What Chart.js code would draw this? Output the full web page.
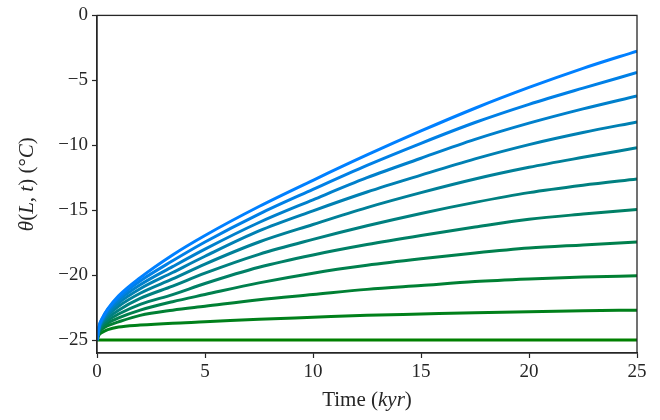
<!DOCTYPE html>
<html>
<head>
<meta charset="utf-8">
<script src="https://cdn.jsdelivr.net/npm/chart.js@4/dist/chart.umd.min.js"></script>
<style>
    html, body { margin: 0; padding: 0; background: #fff; }
    #wrap { width: 660px; height: 420px; }
</style>
</head>
<body>
<div id="wrap"><canvas id="chart"></canvas></div>
<script>
// ── Data ────────────────────────────────────────────────────
const TIMES = [0, 0.1, 0.25, 0.5, 1, 2, 3.5, 5, 7.5, 10, 12.5, 15, 17.5, 20, 22.5, 25];

const THETA_1  = [-25, -23.9,  -23.3,  -22.6,  -21.6,  -20.2,  -18.45, -16.95, -14.72, -12.7,  -10.75, -8.9,  -7.15, -5.55, -4.08, -2.75];
const THETA_2  = [-25, -23.95, -23.35, -22.65, -21.75, -20.45, -18.9,  -17.45, -15.3,  -13.4,  -11.55, -9.85, -8.25, -6.85, -5.6,  -4.4];
const THETA_3  = [-25, -24.0,  -23.45, -22.8,  -21.95, -20.75, -19.35, -18.0,  -15.95, -14.2,  -12.5,  -11.0, -9.55, -8.3,  -7.2,  -6.2];
const THETA_4  = [-25, -24.05, -23.5,  -22.95, -22.15, -21.05, -19.8,  -18.55, -16.6,  -15.05, -13.6,  -12.3, -11.05,-9.95, -9.02, -8.2];
const THETA_5  = [-25, -24.1,  -23.6,  -23.1,  -22.4,  -21.4,  -20.3,  -19.15, -17.45, -16.1,  -14.8,  -13.65,-12.6, -11.7, -10.93,-10.2];
const THETA_6  = [-25, -24.2,  -23.7,  -23.3,  -22.7,  -21.8,  -20.85, -19.85, -18.4,  -17.25, -16.2,  -15.25,-14.4, -13.65,-13.08,-12.6];
const THETA_7  = [-25, -24.25, -23.85, -23.5,  -23.0,  -22.25, -21.5,  -20.65, -19.4,  -18.45, -17.65, -16.95,-16.3, -15.7, -15.3, -14.95];
const THETA_8  = [-25, -24.35, -24.0,  -23.7,  -23.3,  -22.7,  -22.05, -21.5,  -20.6,  -19.85, -19.25, -18.75,-18.3, -17.92,-17.68,-17.45];
const THETA_9  = [-25, -24.45, -24.15, -23.9,  -23.6,  -23.1,  -22.7,  -22.4,  -21.9,  -21.5,  -21.1,  -20.8, -20.5, -20.3, -20.15,-20.05];
const THETA_10 = [-25, -24.6,  -24.4,  -24.2,  -24.0,  -23.85, -23.7,  -23.6,  -23.4,  -23.25, -23.1,  -23.0, -22.9, -22.82,-22.75,-22.7];
const THETA_11 = [-25, -25,    -25,    -25,    -25,    -25,    -25,    -25,    -25,    -25,    -25,    -25,   -25,   -25,   -25,   -25];

const SERIES = [THETA_1, THETA_2, THETA_3, THETA_4, THETA_5, THETA_6,
                THETA_7, THETA_8, THETA_9, THETA_10, THETA_11];

const COLORS = ['#0080ff', '#0080e6', '#0080cc', '#0080b3', '#008099', '#008080',
                '#008066', '#00804d', '#008033', '#00801a', '#008000'];

const X_TICKS = [0, 5, 10, 15, 20, 25];
const Y_TICKS = [0, -5, -10, -15, -20, -25];

// ── Style ───────────────────────────────────────────────────
const FONT = 'Liberation Serif';
const INK  = '#262626';

function drawRich(ctx, parts, cx, cy, angle, size) {
    ctx.save();
    ctx.translate(cx, cy);
    ctx.rotate(angle);
    ctx.fillStyle = INK;
    ctx.textBaseline = 'middle';
    ctx.textAlign = 'left';
    let w = 0;
    parts.forEach(p => {
        ctx.font = (p.it ? 'italic ' : '') + size + 'px "' + FONT + '"';
        w += ctx.measureText(p.t).width;
    });
    let x = -w / 2;
    parts.forEach(p => {
        ctx.font = (p.it ? 'italic ' : '') + size + 'px "' + FONT + '"';
        ctx.fillText(p.t, x, 0);
        x += ctx.measureText(p.t).width;
    });
    ctx.restore();
}

const framePlugin = {
    id: 'frame',
    afterDraw(chart) {
        const { ctx, chartArea: a } = chart;
        ctx.save();
        ctx.strokeStyle = INK;
        ctx.lineWidth = 1.3;
        ctx.strokeRect(a.left, a.top, a.right - a.left, a.bottom - a.top);
        ctx.restore();

        drawRich(ctx, [{ t: 'Time (' }, { t: 'kyr', it: 1 }, { t: ')' }],
            (a.left + a.right) / 2, 400, 0, 21);
        drawRich(ctx, [
            { t: 'θ', it: 1 }, { t: '(' }, { t: 'L', it: 1 }, { t: ', ' }, { t: 't', it: 1 },
            { t: ') (°' }, { t: 'C', it: 1 }, { t: ')' }
        ], 27, (a.top + a.bottom) / 2, -Math.PI / 2, 21);
    },
};

const minus = v => (v < 0 ? '\u2212' + Math.abs(v) : String(v));

const datasets = SERIES.map((ys, i) => ({
    data: TIMES.map((t, j) => ({ x: t, y: ys[j] })),
    borderColor: COLORS[i],
    borderWidth: 3,
    pointRadius: 0,
    cubicInterpolationMode: 'monotone',
    fill: false,
}));

new Chart(document.getElementById('chart'), {
    type: 'line',
    data: { datasets },
    options: {
        responsive: true,
        maintainAspectRatio: false,
        animation: false,
        layout: { padding: { top: 15, right: 23, left: 0, bottom: 0 } },
        plugins: { legend: { display: false }, tooltip: { enabled: false } },
        scales: {
            x: {
                type: 'linear', min: 0, max: 25,
                afterBuildTicks: s => { s.ticks = X_TICKS.map(v => ({ value: v })); },
                afterFit: s => { s.height = 67; },
                grid: { drawOnChartArea: false, tickLength: 5, tickWidth: 1.2, color: INK },
                border: { color: INK, width: 1.3 },
                ticks: { color: INK, font: { family: FONT, size: 19 }, padding: 3, maxRotation: 0, callback: minus },
            },
            y: {
                type: 'linear', min: -26, max: 0,
                afterBuildTicks: s => { s.ticks = Y_TICKS.map(v => ({ value: v })); },
                afterFit: s => { s.width = 97; },
                grid: { drawOnChartArea: false, tickLength: 5, tickWidth: 1.2, color: INK },
                border: { color: INK, width: 1.3 },
                ticks: { color: INK, font: { family: FONT, size: 19 }, padding: 4, callback: minus },
            },
        },
    },
    plugins: [framePlugin],
});
</script>
</body>
</html>
